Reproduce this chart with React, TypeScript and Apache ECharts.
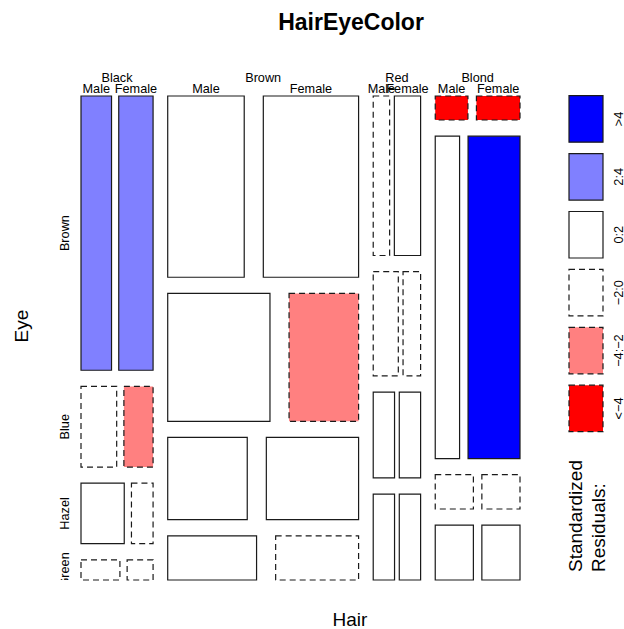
import React, { useEffect, useRef } from "react";
import * as echarts from "echarts";

// ---- data (HairEyeColor) ----
const hairLevels = ["Black", "Brown", "Red", "Blond"];
const eyeLevels = ["Brown", "Blue", "Hazel", "Green"];
const sexLevels = ["Male", "Female"];
// counts indexed [hair][eye]
const maleCounts = [
  [32, 11, 10, 3],
  [53, 50, 25, 15],
  [10, 10, 7, 7],
  [3, 30, 5, 8],
];
const femaleCounts = [
  [36, 9, 5, 2],
  [66, 34, 29, 14],
  [16, 7, 7, 7],
  [4, 64, 5, 8],
];
const residualLabels = [">4", "2:4", "0:2", "\u22122:0", "\u22124:\u22122", "<\u22124"];
const residualColors = ["#0000FF", "#8080FF", "#FFFFFF", "#FFFFFF", "#FF8080", "#FF0000"];
const residualDashed = [false, false, false, true, true, true];

const OFF = 0.1;
const U = 1000;
const FONT = "'Liberation Sans', Arial, Helvetica, sans-serif";
const DASH = [6, 4];
const STROKE = "#1a1a1a";

type Cell = {
  x0: number; x1: number; y0: number; y1: number;
  hair: number; eye: number; sex: number; cls: number;
};

function buildLayout() {
  const counts = [maleCounts, femaleCounts];
  const nh = hairLevels.length, ne = eyeLevels.length, ns = sexLevels.length;
  let N = 0;
  const hairTot = hairLevels.map(() => 0);
  const eyeTot = eyeLevels.map(() => 0);
  const sexTot = sexLevels.map(() => 0);
  for (let k = 0; k < ns; k++)
    for (let i = 0; i < nh; i++)
      for (let j = 0; j < ne; j++) {
        const v = counts[k][i][j];
        N += v; hairTot[i] += v; eyeTot[j] += v; sexTot[k] += v;
      }
  const cells: Cell[] = [];
  const hairCols: { x0: number; x1: number }[] = [];
  const hairWhite = (OFF * U) / Math.max(1, nh - 1);
  let xl = 0;
  for (let i = 0; i < nh; i++) {
    const hw = (1 - OFF) * (hairTot[i] / N) * U;
    const xr = xl + hw;
    hairCols.push({ x0: xl, x1: xr });
    const eyeWhite = (OFF * U) / Math.max(1, ne - 1);
    let yt = U;
    for (let j = 0; j < ne; j++) {
      const cellTot = counts.reduce((s, c) => s + c[i][j], 0);
      const eh = (1 - OFF) * (cellTot / hairTot[i]) * U;
      const yb = yt - eh;
      const sexWhite = (OFF * hw) / Math.max(1, ns - 1);
      let sl = xl;
      for (let k = 0; k < ns; k++) {
        const o = counts[k][i][j];
        const sw = (1 - OFF) * (o / cellTot) * hw;
        const e = (hairTot[i] * eyeTot[j] * sexTot[k]) / (N * N);
        const r = (o - e) / Math.sqrt(e);
        const cls = r > 4 ? 0 : r > 2 ? 1 : r > 0 ? 2 : r > -2 ? 3 : r > -4 ? 4 : 5;
        cells.push({ x0: sl, x1: sl + sw, y0: yb, y1: yt, hair: i, eye: j, sex: k, cls });
        sl += sw + sexWhite;
      }
      yt = yb - eyeWhite;
    }
    xl = xr + hairWhite;
  }
  return { cells, hairCols };
}

export default function App() {
  const ref = useRef<HTMLDivElement>(null);
  useEffect(() => {
    if (!ref.current) return;
    const chart = echarts.init(ref.current, null, { renderer: "svg" });
    const { cells, hairCols } = buildLayout();
    const topCells = cells.filter((c) => c.eye === 0);
    const firstColCells = cells.filter((c) => c.hair === 0 && c.sex === 0);

    const option: any = {
      animation: false,
      backgroundColor: "#ffffff",
      grid: [
        { left: 81, top: 96, width: 439, height: 484 },
        { left: 40, top: 96, width: 41, height: 484 },
      ],
      xAxis: [
        { type: "value", min: 0, max: U, show: false, gridIndex: 0 },
        { type: "value", min: 0, max: 1, show: false, gridIndex: 1 },
      ],
      yAxis: [
        { type: "value", min: 0, max: U, show: false, gridIndex: 0 },
        { type: "value", min: 0, max: U, show: false, gridIndex: 1 },
      ],
      series: [
        {
          type: "custom",
          xAxisIndex: 0,
          yAxisIndex: 0,
          silent: true,
          data: cells.map((_, idx) => [idx]),
          renderItem: (params: any, api: any) => {
            const c = cells[params.dataIndex];
            const p0 = api.coord([c.x0, c.y1]);
            const p1 = api.coord([c.x1, c.y0]);
            return {
              type: "rect",
              shape: { x: p0[0], y: p0[1], width: p1[0] - p0[0], height: p1[1] - p0[1] },
              style: {
                fill: residualColors[c.cls],
                stroke: STROKE,
                lineWidth: 1.2,
                lineDash: residualDashed[c.cls] ? DASH : null,
              },
            };
          },
        },
        {
          type: "custom",
          xAxisIndex: 0,
          yAxisIndex: 0,
          silent: true,
          clip: false,
          data: hairCols.map((_, idx) => [idx]),
          renderItem: (params: any, api: any) => {
            const h = hairCols[params.dataIndex];
            const p = api.coord([(h.x0 + h.x1) / 2, U]);
            return {
              type: "text",
              x: p[0],
              y: p[1] - 18.5,
              style: {
                text: hairLevels[params.dataIndex],
                fill: "#000",
                font: `12.7px ${FONT}`,
                align: "center",
                verticalAlign: "middle",
              },
            };
          },
        },
        {
          type: "custom",
          xAxisIndex: 0,
          yAxisIndex: 0,
          silent: true,
          clip: false,
          data: topCells.map((_, idx) => [idx]),
          renderItem: (params: any, api: any) => {
            const c = topCells[params.dataIndex];
            const p = api.coord([(c.x0 + c.x1) / 2, U]);
            return {
              type: "text",
              x: p[0],
              y: p[1] - 7.5,
              style: {
                text: sexLevels[c.sex],
                fill: "#000",
                font: `12.7px ${FONT}`,
                align: "center",
                verticalAlign: "middle",
              },
            };
          },
        },
        {
          type: "custom",
          xAxisIndex: 1,
          yAxisIndex: 1,
          silent: true,
          clip: true,
          data: firstColCells.map((_, idx) => [idx]),
          renderItem: (params: any, api: any) => {
            const c = firstColCells[params.dataIndex];
            const p = api.coord([1, (c.y0 + c.y1) / 2]);
            return {
              type: "text",
              x: p[0] - 16.5,
              y: p[1],
              rotation: Math.PI / 2,
              style: {
                text: eyeLevels[c.eye],
                fill: "#000",
                font: `12.7px ${FONT}`,
                align: "center",
                verticalAlign: "middle",
              },
            };
          },
        },
      ],
      graphic: [
        {
          type: "text",
          x: 351,
          y: 22,
          style: {
            text: "HairEyeColor",
            fill: "#000",
            font: `bold 23px ${FONT}`,
            align: "center",
            verticalAlign: "middle",
          },
        },
        {
          type: "text",
          x: 350,
          y: 619,
          style: {
            text: "Hair",
            fill: "#000",
            font: `19px ${FONT}`,
            align: "center",
            verticalAlign: "middle",
          },
        },
        {
          type: "text",
          x: 21,
          y: 326,
          rotation: Math.PI / 2,
          style: {
            text: "Eye",
            fill: "#000",
            font: `19px ${FONT}`,
            align: "center",
            verticalAlign: "middle",
          },
        },
        ...residualLabels.flatMap((lab, k) => {
          const top = 95.7 + k * 57.9;
          return [
            {
              type: "rect",
              shape: { x: 569, y: top, width: 34, height: 46.5 },
              style: {
                fill: residualColors[k],
                stroke: STROKE,
                lineWidth: 1.2,
                lineDash: residualDashed[k] ? DASH : null,
              },
            },
            {
              type: "text",
              x: 618.5,
              y: top + 23.25,
              rotation: Math.PI / 2,
              style: {
                text: lab,
                fill: "#000",
                font: `12.7px ${FONT}`,
                align: "center",
                verticalAlign: "middle",
              },
            },
          ];
        }),
        {
          type: "text",
          x: 575.5,
          y: 572,
          rotation: Math.PI / 2,
          style: {
            text: "Standardized",
            fill: "#000",
            font: `19px ${FONT}`,
            align: "left",
            verticalAlign: "middle",
          },
        },
        {
          type: "text",
          x: 598.5,
          y: 572,
          rotation: Math.PI / 2,
          style: {
            text: "Residuals:",
            fill: "#000",
            font: `19px ${FONT}`,
            align: "left",
            verticalAlign: "middle",
          },
        },
      ],
    };
    chart.setOption(option);
    return () => chart.dispose();
  }, []);
  return (
    <div
      ref={ref}
      style={{ position: "fixed", left: 0, top: 0, width: 624, height: 629, background: "#fff" }}
    />
  );
}
